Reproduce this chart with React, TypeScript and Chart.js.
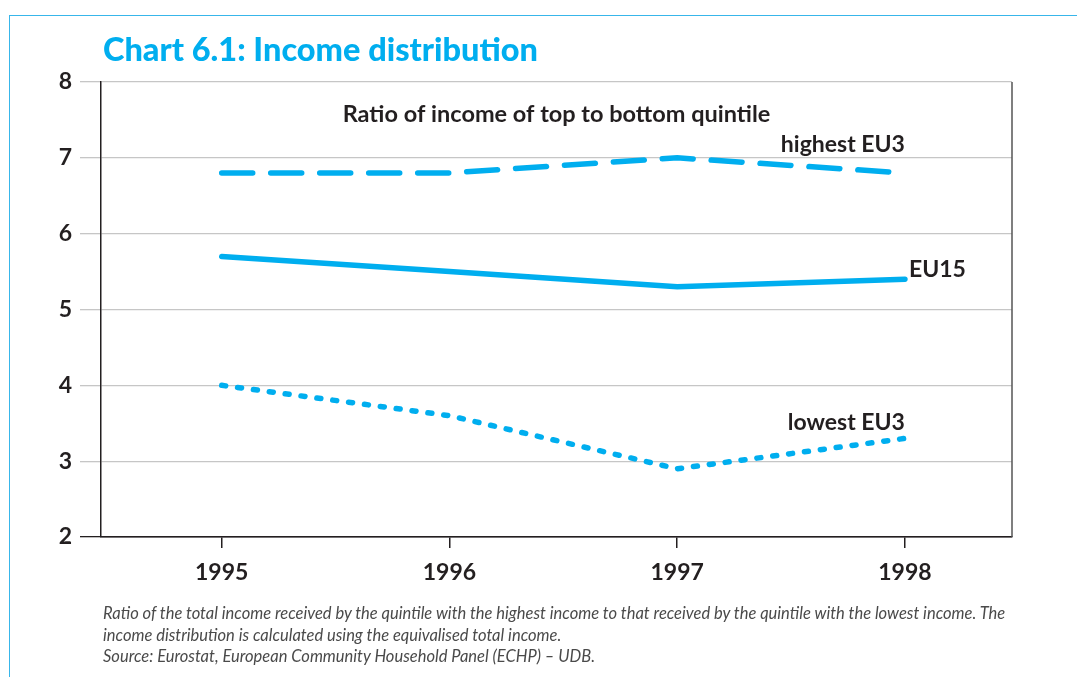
import React, { useEffect, useRef } from "react";
import { Chart, registerables } from "chart.js";

Chart.register(...registerables);

const years = [1995, 1996, 1997, 1998];
const highestEU3 = [6.8, 6.8, 7.0, 6.8];
const eu15 = [5.7, 5.5, 5.3, 5.4];
const lowestEU3 = [4.0, 3.6, 2.9, 3.3];
const seriesNames = ["highest EU3", "EU15", "lowest EU3"];
const yMin = 2;
const yMax = 8;
const xMin = 1994.47;
const xMax = 1998.47;

const titleText = "Chart 6.1: Income distribution";
const subtitleText = "Ratio of income of top to bottom quintile";
const noteLines = [
  "Ratio of the total income received by the quintile with the highest income to that received by the quintile with the lowest income. The",
  "income distribution is calculated using the equivalised total income.",
  "Source: Eurostat, European Community Household Panel (ECHP) \u2013 UDB.",
];

const CYAN = "#00aeef";
const DARK = "#231f20";
const GRID = "#c6c6c6";
const FONT = "Lato, 'Open Sans', sans-serif";

const toPoints = (vals: number[]) => vals.map((v, i) => ({ x: years[i], y: v }));

const annotationPlugin = {
  id: "annots",
  afterDraw(chart: any) {
    const { ctx, chartArea } = chart;
    ctx.save();
    ctx.strokeStyle = "#555";
    ctx.lineWidth = 1.5;
    ctx.beginPath();
    ctx.moveTo(chartArea.right, chartArea.top);
    ctx.lineTo(chartArea.right, chartArea.bottom);
    ctx.stroke();
    ctx.fillStyle = DARK;
    ctx.font = `bold 23.5px ${FONT}`;
    ctx.textAlign = "center";
    ctx.textBaseline = "middle";
    ctx.fillText(subtitleText, (chartArea.left + chartArea.right) / 2, chartArea.top + 32);
    const metas = [0, 1, 2].map((i) => chart.getDatasetMeta(i));
    const last = (m: any) => m.data[m.data.length - 1];
    const p0 = last(metas[0]);
    const p1 = last(metas[1]);
    const p2 = last(metas[2]);
    ctx.font = `bold 23px ${FONT}`;
    ctx.textAlign = "right";
    ctx.fillText(seriesNames[0], p0.x, p0.y - 28);
    ctx.textAlign = "left";
    ctx.fillText(seriesNames[1], p1.x + 4, p1.y - 10);
    ctx.textAlign = "right";
    ctx.fillText(seriesNames[2], p2.x, p2.y - 16);
    ctx.restore();
  },
};

export default function App() {
  const ref = useRef<HTMLCanvasElement | null>(null);
  useEffect(() => {
    if (!ref.current) return;
    const common = {
      borderColor: CYAN,
      pointRadius: 0,
      borderWidth: 5.5,
      fill: false,
      tension: 0,
    };
    const chart = new Chart(ref.current, {
      type: "line",
      data: {
        datasets: [
          { ...common, label: seriesNames[0], data: toPoints(highestEU3), borderDash: [31, 18], borderCapStyle: "round" },
          { ...common, label: seriesNames[1], data: toPoints(eu15), borderCapStyle: "round" },
          { ...common, label: seriesNames[2], data: toPoints(lowestEU3), borderDash: [4, 12], borderCapStyle: "round" },
        ],
      } as any,
      options: {
        responsive: false,
        animation: false,
        devicePixelRatio: 1,
        layout: { padding: { left: 51, right: 65, top: 82, bottom: 80 } },
        plugins: { legend: { display: false }, tooltip: { enabled: false } },
        scales: {
          x: {
            type: "linear",
            min: xMin,
            max: xMax,
            afterFit: (s: any) => { s.height = 60; },
            afterBuildTicks: (s: any) => { s.ticks = years.map((v) => ({ value: v })); },
            grid: { drawOnChartArea: false, drawTicks: true, tickLength: 11, color: DARK, lineWidth: 1.5 },
            border: { display: true, color: DARK, width: 1.5 },
            ticks: {
              padding: 11,
              color: DARK,
              font: { family: FONT, weight: "bold", size: 23 },
              callback: (v: any) => String(v),
            },
          },
          y: {
            min: yMin,
            max: yMax,
            afterFit: (s: any) => { s.width = 50; },
            grid: {
              color: (c: any) => (c.tick && c.tick.value === yMin ? DARK : GRID),
              lineWidth: 1.3,
              tickLength: 21,
            },
            border: { display: true, color: DARK, width: 1.5 },
            ticks: {
              stepSize: 1,
              padding: 8,
              color: DARK,
              font: { family: FONT, weight: "bold", size: 23 },
            },
          },
        },
      } as any,
      plugins: [annotationPlugin],
    });
    return () => chart.destroy();
  }, []);

  return (
    <div style={{ position: "fixed", left: 0, top: 0, width: 1077, height: 677, background: "#fff", overflow: "hidden" }}>
      <div style={{ position: "absolute", left: 9, top: 15, width: 1200, height: 800, borderTop: "1.5px solid #38b6ea", borderLeft: "1.5px solid #38b6ea" }} />
      <canvas ref={ref} width={1077} height={677} style={{ position: "absolute", left: 0, top: 0, width: 1077, height: 677 }} />
      <div style={{ position: "absolute", left: 103, top: 29, fontFamily: FONT, fontWeight: 900, fontSize: 32.5, color: CYAN, whiteSpace: "nowrap", lineHeight: "40px" }}>
        {titleText}
      </div>
      <div style={{ position: "absolute", left: 103, top: 603, fontFamily: FONT, fontStyle: "italic", fontSize: 16.5, color: "#4a4a4a", lineHeight: "21.5px", whiteSpace: "nowrap" }}>
        {noteLines.map((l, i) => (
          <div key={i}>{l}</div>
        ))}
      </div>
    </div>
  );
}
